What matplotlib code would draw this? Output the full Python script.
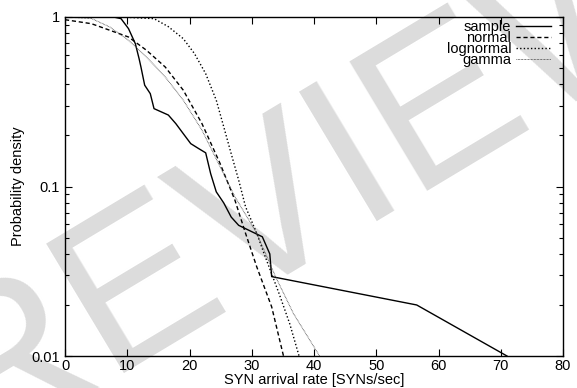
import numpy as np
import matplotlib
matplotlib.use("Agg")
import matplotlib.pyplot as plt
from matplotlib.ticker import LogLocator, FixedLocator

plt.rcParams['font.family'] = ['Liberation Sans', 'DejaVu Sans']

# values
sample_x = [0, 7.8, 9.0, 10.2, 11.3, 11.9, 12.2, 12.8, 13.7, 14.3, 16.6, 17.8, 19.0, 20.2,
            21.4, 22.6, 23.4, 24.3, 25.5, 26.7, 27.9, 31.7, 32.9, 33.2, 56.5, 71.0]
sample_y = [1.0, 1.0, 0.978, 0.854, 0.696, 0.568, 0.507, 0.396, 0.353, 0.288, 0.264, 0.235,
            0.205, 0.179, 0.168, 0.158, 0.119, 0.093, 0.08, 0.066, 0.059, 0.0505, 0.040,
            0.0294, 0.020, 0.01]

normal_x = [0, 4.25, 7.2, 10.2, 13.1, 16.1, 19.0, 22.0, 24.9, 27.3, 29.0, 30.8, 33.2, 35.1]
normal_y = [0.964, 0.913, 0.835, 0.762, 0.636, 0.507, 0.37, 0.235, 0.137, 0.083, 0.053,
            0.0336, 0.0195, 0.01]

lognormal_x = [0, 9.0, 14.3, 16.6, 19.0, 20.8, 22.6, 24.3, 25.5, 26.7, 27.9, 29.0, 30.8,
               32.0, 34.4, 36.1, 37.6]
lognormal_y = [1.0, 1.0, 0.978, 0.877, 0.745, 0.608, 0.463, 0.323, 0.225, 0.156, 0.109,
               0.076, 0.053, 0.040, 0.0233, 0.0155, 0.01]

gamma_x = [0, 4.25, 7.2, 10.2, 13.1, 16.1, 19.0, 22.0, 24.9, 27.3, 30.8, 33.8, 36.7, 40.9]
gamma_y = [1.0, 0.98, 0.873, 0.729, 0.58, 0.443, 0.323, 0.215, 0.131, 0.087, 0.053, 0.0295,
           0.0178, 0.01]

x_ticks = [0, 10, 20, 30, 40, 50, 60, 70, 80]
y_ticks = [0.01, 0.1, 1]
y_labels = ['0.01', '0.1', '1']

fig = plt.figure(figsize=(5.77, 3.88), dpi=100)
ax = fig.add_axes([65/577, 1-356/388, (563-65)/577, (356-17)/388])

# watermark, kept behind the axes
fig.text(0.432, 0.432, 'PREVIEW', fontsize=158, color='#dcdcdc', rotation=31,
         ha='center', va='center', zorder=-10, family=['Liberation Sans', 'DejaVu Sans'])
ax.patch.set_alpha(0)

ax.plot(sample_x, sample_y, '-', color='black', lw=1.0, label='sample')
ax.plot(normal_x, normal_y, color='black', lw=1.0, ls=(0, (3, 2)), label='normal')
ax.plot(lognormal_x, lognormal_y, color='black', lw=1.0, ls=(0, (1, 1.6)), label='lognormal')
ax.plot(gamma_x, gamma_y, color='#444444', lw=0.7, ls=(0, (0.7, 0.8)), label='gamma')

ax.set_yscale('log')
ax.set_xlim(0, 80)
ax.set_ylim(0.01, 1)
ax.xaxis.set_major_locator(FixedLocator(x_ticks))
ax.set_yticks(y_ticks)
ax.set_yticklabels(y_labels)
ax.yaxis.set_minor_locator(LogLocator(base=10, subs=np.arange(2, 10)))
ax.yaxis.set_minor_formatter(plt.NullFormatter())
ax.tick_params(which='both', direction='in', top=True, right=True, labelsize=10.5)
ax.tick_params(axis='x', pad=2)
ax.tick_params(which='major', length=5, width=0.8)
ax.tick_params(which='minor', length=3, width=0.8)
for s in ax.spines.values():
    s.set_linewidth(1.0)

ax.set_xlabel('SYN arrival rate [SYNs/sec]', fontsize=10.5, labelpad=0)
ax.set_ylabel('Probability density', fontsize=10.5, labelpad=5)

ax.legend(loc='upper right', bbox_to_anchor=(0.975, 0.99), frameon=False,
          markerfirst=False, fontsize=10.5, handlelength=2.4, handletextpad=0.3,
          labelspacing=-0.22, borderaxespad=0, borderpad=0)

fig.savefig('out.png', dpi=100)
